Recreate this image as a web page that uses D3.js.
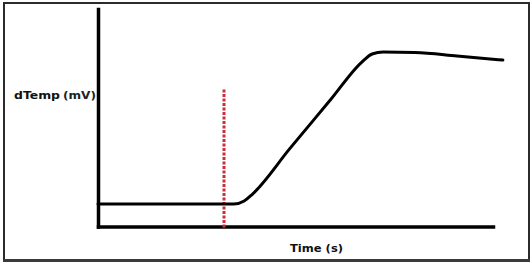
<!DOCTYPE html>
<html>
<head>
<meta charset="utf-8">
<script src="https://cdn.jsdelivr.net/npm/d3@7"></script>
<style>
  html, body { margin: 0; padding: 0; background: #fff; }
  svg { display: block; }
</style>
</head>
<body>
<svg id="chart" width="531" height="264"></svg>
<script>
// ---- data ----
const timeValues  = [0, 34.4, 37.0, 39.0, 48.6, 58.7, 66.8, 69.4, 72.2, 80.3, 90.9, 102.5];
const tempValues  = [10.3, 10.3, 11.7, 14.7, 35.9, 57.9, 75.6, 79.3, 80.2, 80.0, 78.4, 76.5];
const eventTime   = [31.9];          // red dashed marker position
const eventTop    = [63];            // top of marker in data units
const xAxisLabel  = ["Time (s)"];
const yAxisLabel  = ["dTemp", "(mV)"];

const svg = d3.select("#chart");

// outer frame
svg.append("rect")
  .attr("x", 4).attr("y", 3).attr("width", 525).attr("height", 257)
  .attr("fill", "#fff").attr("stroke", "#2b2b2b").attr("stroke-width", 2);
svg.append("line")
  .attr("x1", 3).attr("x2", 530).attr("y1", 260.5).attr("y2", 260.5)
  .attr("stroke", "#3a3a3a").attr("stroke-width", 3);

const x = d3.scaleLinear().domain([0, 100]).range([98, 493]);
const y = d3.scaleLinear().domain([0, 100]).range([226.5, 9]);

// axes (no ticks)
const xAxis = svg.append("g")
  .attr("transform", `translate(0,${y(0)})`)
  .call(d3.axisBottom(x).tickValues([]).tickSizeOuter(0));
const yAxis = svg.append("g")
  .attr("transform", `translate(${x(0)},0)`)
  .call(d3.axisLeft(y).tickValues([]).tickSizeOuter(0));
[xAxis, yAxis].forEach(g => g.select(".domain")
  .attr("stroke", "#000").attr("stroke-width", 3.5).attr("stroke-linecap", "square"));

// red dashed marker
svg.append("line")
  .attr("x1", x(eventTime[0])).attr("x2", x(eventTime[0]))
  .attr("y1", y(eventTop[0])).attr("y2", y(0) + 1)
  .attr("stroke", "#cc2f3c").attr("stroke-width", 3)
  .attr("stroke-dasharray", "3,1.5");

// curve
const pts = timeValues.map((t, i) => [t, tempValues[i]]);
const line = d3.line()
  .x(d => x(d[0])).y(d => y(d[1]))
  .curve(d3.curveMonotoneX);
svg.append("path")
  .datum(pts)
  .attr("d", line)
  .attr("fill", "none")
  .attr("stroke", "#000")
  .attr("stroke-width", 3)
  .attr("stroke-linejoin", "round")
  .attr("stroke-linecap", "round");

// labels
const font = "'DejaVu Sans', Verdana, sans-serif";
svg.append("text")
  .attr("x", 14).attr("y", 98.5)
  .attr("font-family", font).attr("font-weight", "bold").attr("font-size", 10.5)
  .attr("textLength", 46).attr("lengthAdjust", "spacingAndGlyphs")
  .attr("fill", "#111")
  .text(yAxisLabel[0]);
svg.append("text")
  .attr("x", 63).attr("y", 98.5)
  .attr("font-family", font).attr("font-weight", "bold").attr("font-size", 11)
  .attr("textLength", 33).attr("lengthAdjust", "spacingAndGlyphs")
  .attr("fill", "#222")
  .text(yAxisLabel[1]);
svg.append("text")
  .attr("x", 290).attr("y", 251.5)
  .attr("font-family", font).attr("font-weight", "bold").attr("font-size", 10)
  .attr("textLength", 53).attr("lengthAdjust", "spacingAndGlyphs")
  .attr("fill", "#111")
  .text(xAxisLabel[0]);
</script>
</body>
</html>
